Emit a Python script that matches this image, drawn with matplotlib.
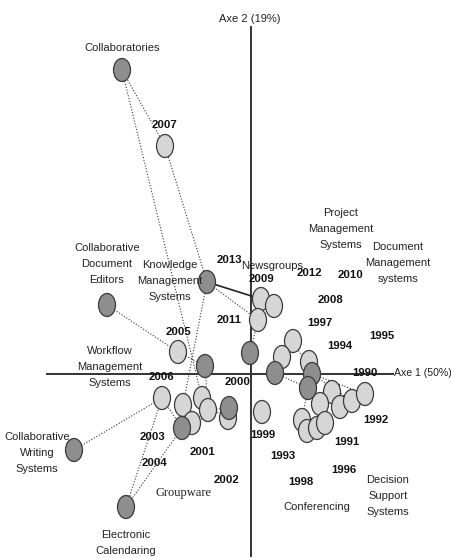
import matplotlib
matplotlib.use("Agg")
import matplotlib.pyplot as plt
from matplotlib.patches import Ellipse

# ---------------- data (CA factor coordinates, Axe 1 / Axe 2) ----------------
# technologies (dark points)
tech_x = [-1.29, -0.44, -1.44, -0.46, -0.01, 0.24, 0.61, 0.57, -0.22, -0.69, -1.77, -1.25]
tech_y = [3.04, 0.92, 0.69, 0.08, 0.21, 0.01, 0.00, -0.14, -0.34, -0.54, -0.76, -1.33]

# years (light points)
year_x = [-0.86, -0.73, 0.10, 0.23, 0.07, 0.42, 0.31, 0.58, 0.81, 0.89, 1.01, 1.14,
          0.69, 0.51, 0.56, 0.66, 0.74, -0.89, -0.68, -0.49, -0.43, -0.23, -0.59, 0.11]
year_y = [2.28, 0.22, 0.75, 0.68, 0.54, 0.33, 0.17, 0.12, -0.18, -0.33, -0.27, -0.20,
          -0.30, -0.46, -0.57, -0.54, -0.49, -0.24, -0.31, -0.24, -0.36, -0.44, -0.49, -0.38]

# technology labels and their placement
tech_labels = ["Collaboratories", "Collaborative\nDocument\nEditors",
               "Knowledge\nManagement\nSystems", "Newsgroups",
               "Project\nManagement\nSystems", "Document\nManagement\nsystems",
               "Workflow\nManagement\nSystems", "Collaborative\nWriting\nSystems",
               "Electronic\nCalendaring", "Groupware", "Conferencing",
               "Decision\nSupport\nSystems"]
tech_lx = [-1.29, -1.44, -0.81, 0.21, 0.90, 1.47, -1.41, -2.14, -1.25, -0.68, 0.66, 1.37]
tech_ly = [3.26, 1.10, 0.93, 1.08, 1.45, 1.11, 0.07, -0.79, -1.69, -1.19, -1.33, -1.22]

# year labels and their placement
year_labels = ["2007", "2013", "2009", "2012", "2010", "2008", "1997", "1994", "1995",
               "1990", "2011", "2005", "2006", "2000", "2003", "2001", "2004", "2002",
               "1999", "1993", "1991", "1992", "1996", "1998"]
year_lx = [-0.87, -0.22, 0.10, 0.58, 1.00, 0.80, 0.69, 0.89, 1.31, 1.14, -0.22, -0.73,
           -0.90, -0.13, -0.99, -0.49, -0.96, -0.24, 0.12, 0.32, 0.96, 1.25, 0.93, 0.50]
year_ly = [2.49, 1.14, 0.95, 1.01, 0.99, 0.74, 0.51, 0.28, 0.38, 0.01, 0.54, 0.42,
           -0.03, -0.08, -0.63, -0.78, -0.89, -1.06, -0.61, -0.82, -0.68, -0.46, -0.96, -1.08]

# links: (kind, index, kind, index, style)
links = [("t", 0, "y", 0, ":"), ("t", 0, "y", 19, ":"), ("y", 0, "t", 1, ":"),
         ("t", 1, "y", 2, "-"), ("t", 1, "y", 4, ":"), ("t", 1, "y", 18, ":"),
         ("t", 2, "y", 1, ":"), ("y", 1, "t", 3, ":"), ("t", 10, "y", 17, ":"),
         ("y", 17, "t", 9, ":"), ("t", 11, "t", 9, ":"), ("t", 11, "y", 17, ":"),
         ("t", 4, "y", 4, ":"), ("t", 3, "y", 20, ":"), ("t", 8, "y", 20, ":"),
         ("t", 8, "y", 22, ":"), ("t", 5, "t", 7, ":"), ("t", 5, "y", 6, ":"),
         ("t", 6, "y", 5, ":"), ("t", 6, "y", 10, ":"), ("t", 6, "y", 11, ":"),
         ("t", 7, "y", 13, ":"), ("t", 7, "y", 12, ":")]

axis1_label = "Axe 1 (50%)"
axis2_label = "Axe 2 (19%)"

# ---------------- drawing ----------------
fig = plt.figure(figsize=(4.51, 5.58), dpi=100)
ax = fig.add_axes([0, 0, 1, 1])
ax.set_xlim(-2.51, 2.00)
ax.set_ylim(-1.84, 3.74)
ax.axis("off")

NARROW = ["Liberation Sans Narrow", "Liberation Sans", "DejaVu Sans"]

# axes lines
ax.plot([-2.04, 1.42], [0, 0], color="#333333", lw=1.4, zorder=1)
ax.plot([0, 0], [3.47, -1.82], color="#333333", lw=1.4, zorder=1)
ax.text(1.43, 0.01, axis1_label, ha="left", va="center", fontsize=7.6,
        family=NARROW, color="#222222", zorder=6)
ax.text(-0.01, 3.55, axis2_label, ha="center", va="center", fontsize=8,
        family=NARROW, color="#222222", zorder=6)

def pt(kind, i):
    if kind == "t":
        return tech_x[i], tech_y[i]
    return year_x[i], year_y[i]

for k1, i1, k2, i2, st in links:
    x1, y1 = pt(k1, i1)
    x2, y2 = pt(k2, i2)
    if st == "-":
        ax.plot([x1, x2], [y1, y2], color="#222222", lw=1.2, zorder=2)
    else:
        ax.plot([x1, x2], [y1, y2], color="#333333", lw=0.8,
                linestyle=(0, (1, 1.6)), zorder=2)

W, H = 0.17, 0.23
for x, y in zip(year_x, year_y):
    ax.add_patch(Ellipse((x, y), W, H, facecolor="#d6d6d6", edgecolor="#3a3a3a",
                         lw=0.9, zorder=3))
for x, y in zip(tech_x, tech_y):
    ax.add_patch(Ellipse((x, y), W, H, facecolor="#8e8e8e", edgecolor="#3a3a3a",
                         lw=0.9, zorder=4))

for lab, x, y in zip(tech_labels, tech_lx, tech_ly):
    if lab == "Groupware":
        ax.text(x, y, lab, ha="center", va="center", fontsize=9,
                family=["Liberation Serif", "DejaVu Serif"], color="#222222", zorder=6)
    else:
        ax.text(x, y, lab, ha="center", va="center", fontsize=8,
                family=NARROW, color="#222222", linespacing=1.7, zorder=6)

for lab, x, y in zip(year_labels, year_lx, year_ly):
    ax.text(x, y, lab, ha="center", va="center", fontsize=8.2, fontweight="bold",
            family=NARROW, color="#111111", zorder=6)

fig.savefig("out.png", dpi=100, facecolor="white")
